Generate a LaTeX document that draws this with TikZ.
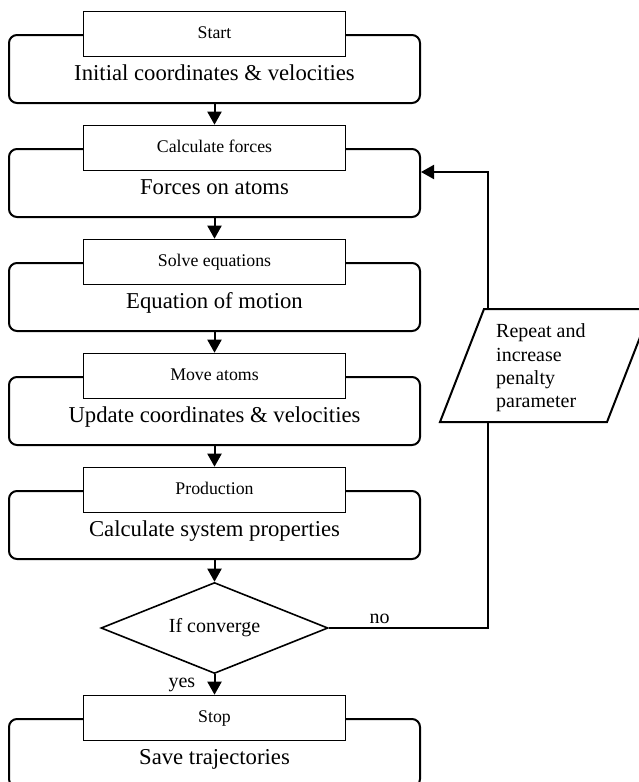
\documentclass[tikz,border=0pt]{standalone}
\usepackage{fontspec}
\setmainfont{Liberation Serif}
\usetikzlibrary{arrows.meta,shapes.geometric}
\tikzset{
  outerbox/.style={draw,rounded corners=8pt,line width=2pt,minimum width=411pt,minimum height=68pt,inner sep=0pt},
  titlebox/.style={draw,fill=white,line width=1.6pt,minimum width=262pt,minimum height=45pt,inner sep=0pt,
    font=\fontsize{17.8}{21}\selectfont,text height=12.5pt,text depth=4.5pt},
  bigtext/.style={inner sep=0pt,font=\fontsize{22.7}{26}\selectfont,text height=16pt,text depth=5.5pt},
  decision/.style={diamond,draw,aspect=2.5,line width=1.6pt,minimum width=227pt,minimum height=91pt,inner sep=0pt,
    font=\fontsize{20}{23.3}\selectfont},
  lbl/.style={font=\fontsize{20}{23.3}\selectfont},
  flow/.style={line width=2pt,-{Triangle[length=13pt,width=14pt]}}
}
\begin{document}
\begin{tikzpicture}[x=1pt,y=-1pt]
	\clip (0,0) rectangle (639,782);
	% blocks
	\foreach \i/\ttl/\txt in {0/Start/Initial coordinates \& velocities,
		1/Calculate forces/Forces on atoms,
		2/Solve equations/Equation of motion,
		3/Move atoms/Update coordinates \& velocities,
		4/Production/Calculate system properties,
		6/Stop/Save trajectories}
	{
		\node[outerbox] (b\i) at (214.5,{69+114*\i}) {};
		\node[bigtext] (m\i) at (214.5,{75+114*\i}) {\txt};
		\node[titlebox] (t\i) at (b\i.north) {\ttl};
	}
	\node[decision] (conv) at (214.5,628) {If converge};
	\foreach \i/\j in {0/1,1/2,2/3,3/4}
	\draw[flow] (b\i.south)--(t\j.north);
	\draw[flow] (b4.south)--(conv.north);
	\draw[flow] (conv.south)-- node (yes) [left=15pt,lbl]{yes} (t6.north);
	% loop back
	\coordinate (turn) at (488,172);
	\draw[flow] (conv.east) -| node (no) [pos=0.16,above,lbl]{no} (turn) -- (turn -| b1.east);
	\filldraw[fill=white,line width=2pt] (440,422)--(484,309)--(651,309)--(607,422)--cycle;
	\node[lbl,anchor=west,inner sep=0pt,align=left] (rep) at (496,368) {Repeat and\\increase\\penalty\\parameter};
\end{tikzpicture}
\end{document}
